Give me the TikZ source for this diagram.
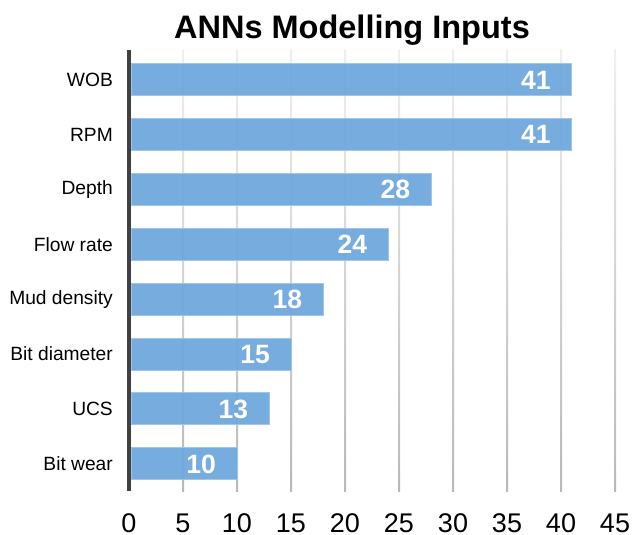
\documentclass[tikz,border=0pt]{standalone}
\usepackage{fontspec}
\setmainfont{Liberation Sans}
\definecolor{barblue}{RGB}{111,168,220}
\definecolor{baredge}{RGB}{160,196,234}
\definecolor{axisdark}{RGB}{64,64,64}
\tikzset{
  catlabel/.style={anchor=east, font=\fontsize{19.2}{21}\selectfont, text=black, inner sep=0pt},
  ticklabel/.style={anchor=base, font=\fontsize{27}{29}\selectfont, text=black, inner sep=0pt},
  vallabel/.style={anchor=base east, font=\fontsize{26.5}{28}\selectfont\bfseries, text=white, inner sep=0pt},
  barbox/.style={fill=barblue, fill opacity=0.95, draw=baredge, line width=1pt},
  gridbar/.style={top color=gray!12, bottom color=gray!55, draw=none},
}
\begin{document}
\begin{tikzpicture}[x=1pt, y=-1pt]
  \useasboundingbox (0,0) rectangle (632,535);
  % title
  \node[anchor=base, inner sep=0pt, font=\fontsize{32.5}{34}\selectfont\bfseries] (title) at (352,39) {ANNs Modelling Inputs};
  % vertical grid lines every 5 units (10.8 px per unit)
  \foreach \k in {1,...,9} {
    \shade[gridbar] ({129+54*\k-1},50) rectangle ({129+54*\k+1},491);
  }
  % bars
  \foreach \v/\name [count=\i from 0] in {41/WOB,41/RPM,28/Depth,24/Flow rate\ ,18/Mud density,15/Bit diameter,13/UCS,10/Bit wear} {
    \pgfmathsetmacro{\yc}{79.5+54.9*\i}
    \pgfmathsetmacro{\xe}{129+10.8*\v}
    \draw[barbox] (131,\yc-16) rectangle (\xe,\yc+16);
    \node[catlabel] (cat\i) at (113,\yc) {\name};
    \node[vallabel] (val\i) at (\xe-21,\yc+9.5) {\v};
  }
  % value axis
  \draw[axisdark, line width=4pt] (129,50) -- (129,491);
  \foreach \t in {0,5,...,45} {
    \node[ticklabel] (tick\t) at ({129+10.8*\t},532) {\t};
  }
\end{tikzpicture}
\end{document}
